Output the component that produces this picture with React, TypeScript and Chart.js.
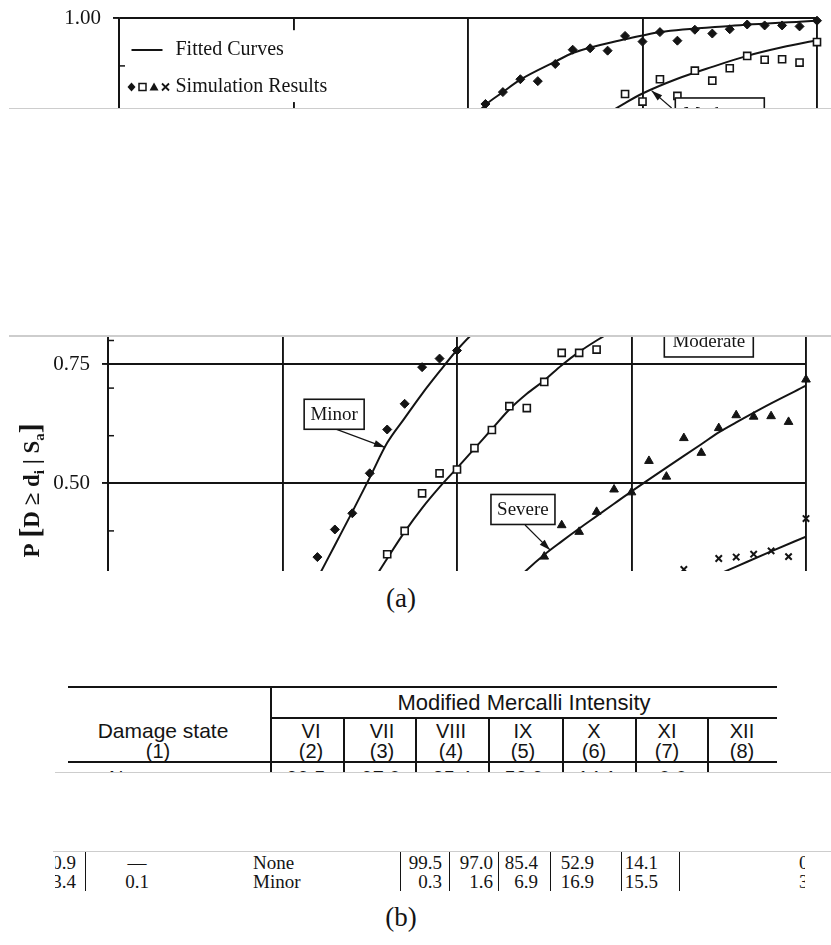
import React, { useEffect, useRef } from "react";
import { Chart, registerables } from "chart.js";

Chart.register(...registerables);

const INK = "#141414";
const SERIF = "'Liberation Serif', 'Times New Roman', serif";
const SANS = "'Liberation Sans', Arial, sans-serif";

// ---------- chart data (x: spectral acceleration, axis units 0..4; y: P[D >= di | Sa]) ----------
const minorSa = [1.2, 1.3, 1.4, 1.5, 1.6, 1.7, 1.8, 1.9, 2.0, 2.1, 2.2, 2.3, 2.4, 2.5, 2.6, 2.7, 2.8, 2.9, 3.0, 3.1, 3.2, 3.3, 3.4, 3.5, 3.6, 3.7, 3.8, 3.9, 4.0];
const minorP = [0.345, 0.403, 0.437, 0.521, 0.613, 0.667, 0.744, 0.762, 0.779, 0.82, 0.845, 0.872, 0.868, 0.904, 0.934, 0.937, 0.932, 0.963, 0.951, 0.971, 0.953, 0.976, 0.968, 0.977, 0.987, 0.985, 0.985, 0.983, 0.995];

const moderateSa = [1.6, 1.7, 1.8, 1.9, 2.0, 2.1, 2.2, 2.3, 2.4, 2.5, 2.6, 2.7, 2.8, 2.9, 3.0, 3.1, 3.2, 3.3, 3.4, 3.5, 3.6, 3.7, 3.8, 3.9, 4.0];
const moderateP = [0.351, 0.4, 0.479, 0.521, 0.529, 0.574, 0.612, 0.662, 0.658, 0.713, 0.774, 0.774, 0.781, 0.841, 0.825, 0.872, 0.837, 0.89, 0.869, 0.895, 0.921, 0.913, 0.914, 0.907, 0.95];

const severeSa = [2.5, 2.6, 2.7, 2.8, 2.9, 3.0, 3.1, 3.2, 3.3, 3.4, 3.5, 3.6, 3.7, 3.8, 3.9, 4.0];
const severeP = [0.346, 0.412, 0.398, 0.44, 0.487, 0.481, 0.547, 0.514, 0.595, 0.564, 0.616, 0.643, 0.64, 0.641, 0.629, 0.718];

const collapseSa = [3.3, 3.5, 3.6, 3.7, 3.8, 3.9, 4.0];
const collapseP = [0.319, 0.342, 0.345, 0.351, 0.358, 0.346, 0.426];

// fitted curves
const minorFitSa = [0.9, 1.0, 1.1, 1.2, 1.3, 1.4, 1.5, 1.6, 1.7, 1.8, 1.9, 2.0, 2.1, 2.2, 2.3, 2.5, 2.6, 2.9, 3.0, 3.1, 3.5, 3.9, 4.0];
const minorFitP = [0.1, 0.16, 0.23, 0.3, 0.37, 0.44, 0.512, 0.585, 0.637, 0.688, 0.735, 0.78, 0.818, 0.845, 0.871, 0.909, 0.927, 0.956, 0.964, 0.971, 0.984, 0.993, 0.995];

const moderateFitSa = [1.2, 1.3, 1.4, 1.5, 1.6, 1.7, 1.8, 1.9, 2.0, 2.1, 2.2, 2.3, 2.4, 2.5, 2.6, 2.7, 2.8, 2.9, 3.0, 3.2, 3.4, 3.6, 3.8, 4.0];
const moderateFitP = [0.11, 0.168, 0.227, 0.284, 0.342, 0.398, 0.448, 0.492, 0.532, 0.573, 0.614, 0.655, 0.688, 0.716, 0.748, 0.776, 0.8, 0.822, 0.842, 0.873, 0.898, 0.921, 0.939, 0.954];

const severeFitSa = [2.2, 2.3, 2.4, 2.5, 2.6, 2.7, 2.8, 2.9, 3.0, 3.2, 3.4, 3.5, 3.6, 3.8, 4.0];
const severeFitP = [0.245, 0.282, 0.318, 0.35, 0.378, 0.405, 0.431, 0.457, 0.483, 0.533, 0.582, 0.607, 0.628, 0.668, 0.705];

const collapseFitSa = [3.2, 3.4, 3.5, 3.6, 3.8, 4.0];
const collapseFitP = [0.26, 0.293, 0.309, 0.325, 0.357, 0.388];

const yMinorTicks = [0.1, 0.2, 0.3, 0.4, 0.6, 0.7, 0.8, 0.9];
const legendTexts = ["Fitted Curves", "Simulation Results"];
const curveLabels = ["Minor", "Severe", "Moderate"];

// ---------- table data ----------
const damageHeader = ["Damage state", "(1)"];
const mmiTitle = "Modified Mercalli Intensity";
const mmiLevels = ["VI", "VII", "VIII", "IX", "X", "XI", "XII"];
const mmiColumnNos = ["(2)", "(3)", "(4)", "(5)", "(6)", "(7)", "(8)"];
const noneRow = ["99.5", "97.0", "85.4", "52.9", "14.1", "0.0"];
const minorRow = ["0.3", "1.6", "6.9", "16.9", "15.5", "35.1"];
const leftNums = ["0.9", "3.4"];
const lossNums = ["\u2014", "0.1"];
const stateNames = ["None", "Minor"];

const pts = (xs: number[], ys: number[]) => xs.map((x, i) => ({ x, y: ys[i] }));

function drawArrow(ctx: CanvasRenderingContext2D, x1: number, y1: number, x2: number, y2: number) {
  ctx.beginPath();
  ctx.moveTo(x1, y1);
  ctx.lineTo(x2, y2);
  ctx.stroke();
  const ang = Math.atan2(y2 - y1, x2 - x1);
  const L = 11, W = 3.5;
  ctx.beginPath();
  ctx.moveTo(x2, y2);
  ctx.lineTo(x2 - L * Math.cos(ang) + W * Math.sin(ang), y2 - L * Math.sin(ang) - W * Math.cos(ang));
  ctx.lineTo(x2 - L * Math.cos(ang) - W * Math.sin(ang), y2 - L * Math.sin(ang) + W * Math.cos(ang));
  ctx.closePath();
  ctx.fill();
}

const annots = [
  { text: curveLabels[0], cx: 1.296, cy: 0.645, w: 60, h: 30, from: [1.31, 0.6134], to: [1.587, 0.5756] },
  { text: curveLabels[1], cx: 2.378, cy: 0.445, w: 64, h: 30, from: [2.39, 0.4124], to: [2.533, 0.36] },
  { text: curveLabels[2], cx: 3.443, cy: 0.799, w: 89, h: 32, from: [3.167, 0.8116], to: [3.052, 0.848] },
];

const decor = {
  id: "decor",
  beforeDatasetsDraw(chart: any) {
    const { ctx, chartArea: a, scales } = chart;
    const x = scales.x, y = scales.y;
    ctx.save();
    const gx = x.getPixelForValue(1);
    const yA = y.getPixelForValue(0.975), yB = y.getPixelForValue(0.824);
    ctx.fillStyle = "#fff";
    ctx.fillRect(gx - 3, yA, 6, yB - yA);
    ctx.strokeStyle = INK;
    ctx.lineWidth = 1.5;
    for (const v of yMinorTicks) {
      const py = y.getPixelForValue(v);
      ctx.beginPath();
      ctx.moveTo(a.left, py);
      ctx.lineTo(a.left + 6, py);
      ctx.stroke();
    }
    ctx.restore();
  },
  afterDatasetsDraw(chart: any) {
    const { ctx, chartArea: a, scales } = chart;
    const x = scales.x, y = scales.y;
    ctx.save();
    ctx.fillStyle = INK;
    ctx.strokeStyle = INK;
    const ly1 = a.top + 31.7, ly2 = a.top + 68.7;
    ctx.lineWidth = 2;
    ctx.beginPath();
    ctx.moveTo(a.left + 12.5, ly1);
    ctx.lineTo(a.left + 43.5, ly1);
    ctx.stroke();
    ctx.font = `20px ${SERIF}`;
    ctx.textBaseline = "middle";
    ctx.textAlign = "left";
    ctx.fillText(legendTexts[0], a.left + 56.5, ly1);
    ctx.fillText(legendTexts[1], a.left + 56.5, ly2);
    let mx = a.left + 12.5;
    ctx.beginPath();
    ctx.moveTo(mx, ly2 - 4.5); ctx.lineTo(mx + 4, ly2); ctx.lineTo(mx, ly2 + 4.5); ctx.lineTo(mx - 4, ly2); ctx.closePath();
    ctx.fill();
    mx = a.left + 23.5;
    ctx.lineWidth = 1.5;
    ctx.strokeRect(mx - 3.5, ly2 - 3.5, 7, 7);
    mx = a.left + 35;
    ctx.beginPath();
    ctx.moveTo(mx, ly2 - 4.5); ctx.lineTo(mx + 4.5, ly2 + 3.5); ctx.lineTo(mx - 4.5, ly2 + 3.5); ctx.closePath();
    ctx.fill();
    mx = a.left + 46.5;
    ctx.lineWidth = 1.8;
    ctx.beginPath();
    ctx.moveTo(mx - 3.5, ly2 - 3.5); ctx.lineTo(mx + 3.5, ly2 + 3.5);
    ctx.moveTo(mx + 3.5, ly2 - 3.5); ctx.lineTo(mx - 3.5, ly2 + 3.5);
    ctx.stroke();
    ctx.font = `19px ${SERIF}`;
    ctx.textAlign = "center";
    for (const an of annots) {
      const cx = x.getPixelForValue(an.cx), cy = y.getPixelForValue(an.cy);
      ctx.lineWidth = 1.2;
      drawArrow(ctx, x.getPixelForValue(an.from[0]), y.getPixelForValue(an.from[1]), x.getPixelForValue(an.to[0]), y.getPixelForValue(an.to[1]));
      ctx.fillStyle = "#fff";
      ctx.fillRect(cx - an.w / 2, cy - an.h / 2, an.w, an.h);
      ctx.lineWidth = 1.6;
      ctx.strokeRect(cx - an.w / 2, cy - an.h / 2, an.w, an.h);
      ctx.fillStyle = INK;
      ctx.fillText(an.text, cx, cy + 1);
    }
    ctx.restore();
  },
  afterDraw(chart: any) {
    const { ctx, chartArea: a } = chart;
    ctx.save();
    ctx.translate(31, (a.top + a.bottom) / 2 + 7);
    ctx.rotate(-Math.PI / 2);
    const segs = [
      { t: "P ", s: 23, dy: 0 },
      { t: "[", s: 30, dy: 1 },
      { t: "D \u2265 d", s: 23, dy: 0 },
      { t: "i", s: 15, dy: 5 },
      { t: " | S", s: 23, dy: 0 },
      { t: "a", s: 15, dy: 5 },
      { t: "]", s: 30, dy: 1 },
    ];
    let total = 0;
    for (const sg of segs) {
      ctx.font = `bold ${sg.s}px ${SERIF}`;
      total += ctx.measureText(sg.t).width;
    }
    let px = -total / 2;
    ctx.fillStyle = INK;
    ctx.textBaseline = "alphabetic";
    ctx.textAlign = "left";
    for (const sg of segs) {
      ctx.font = `bold ${sg.s}px ${SERIF}`;
      ctx.fillText(sg.t, px, 8 + sg.dy);
      px += ctx.measureText(sg.t).width;
    }
    ctx.restore();
  },
};

function makeConfig(): any {
  const fit = (d: { x: number; y: number }[]) => ({
    data: d,
    showLine: true,
    pointRadius: 0,
    borderColor: INK,
    borderWidth: 2,
    cubicInterpolationMode: "monotone",
    fill: false,
  });
  return {
    type: "scatter",
    data: {
      datasets: [
        { label: "Minor", data: pts(minorSa, minorP), pointStyle: "rectRot", pointRadius: 4.5, backgroundColor: INK, borderColor: INK, borderWidth: 1, clip: false },
        { label: "Moderate", data: pts(moderateSa, moderateP), pointStyle: "rect", pointRadius: 5, backgroundColor: "#fff", borderColor: INK, borderWidth: 1.6, clip: false },
        { label: "Severe", data: pts(severeSa, severeP), pointStyle: "triangle", pointRadius: 5, backgroundColor: INK, borderColor: INK, borderWidth: 1, clip: false },
        { label: "Collapse", data: pts(collapseSa, collapseP), pointStyle: "crossRot", pointRadius: 4.5, borderColor: INK, borderWidth: 2, clip: false },
        { label: "Minor fit", ...fit(pts(minorFitSa, minorFitP)) },
        { label: "Moderate fit", ...fit(pts(moderateFitSa, moderateFitP)) },
        { label: "Severe fit", ...fit(pts(severeFitSa, severeFitP)) },
        { label: "Collapse fit", ...fit(pts(collapseFitSa, collapseFitP)) },
      ],
    },
    options: {
      responsive: false,
      animation: false,
      events: [],
      layout: { padding: { top: 45.3, right: 25, left: 0, bottom: 0 } },
      plugins: { legend: { display: false }, tooltip: { enabled: false } },
      scales: {
        x: {
          type: "linear",
          min: 0,
          max: 4,
          ticks: { display: false, stepSize: 1 },
          grid: { color: INK, lineWidth: 1.9, drawTicks: false },
          border: { color: INK, width: 1.9 },
          afterFit: (s: any) => { s.height = 38.7; },
        },
        y: {
          type: "linear",
          min: 0,
          max: 1,
          ticks: {
            stepSize: 0.25,
            color: INK,
            padding: 12,
            font: { family: SERIF, size: 21 },
            callback: (v: any) => Number(v).toFixed(2),
          },
          grid: { color: INK, lineWidth: 1.9, tickLength: 6 },
          border: { color: INK, width: 1.9 },
          afterFit: (s: any) => { s.width = 108; },
        },
      },
    },
    plugins: [decor],
  };
}

const CW = 831, CH = 560;

function ChartView({ left, top }: { left: number; top: number }) {
  const ref = useRef<HTMLCanvasElement | null>(null);
  useEffect(() => {
    const chart = new Chart(ref.current as HTMLCanvasElement, makeConfig());
    return () => chart.destroy();
  }, []);
  return (
    <div style={{ position: "absolute", left, top, width: CW, height: CH }}>
      <canvas ref={ref} width={CW} height={CH} style={{ width: CW, height: CH, display: "block" }} />
    </div>
  );
}

function Clip({ x, y, w, h, children }: { x: number; y: number; w: number; h: number; children?: any }) {
  return (
    <div style={{ position: "absolute", left: x, top: y, width: w, height: h, overflow: "hidden" }}>
      <div style={{ position: "absolute", left: -x, top: -y, width: 831, height: 945 }}>{children}</div>
    </div>
  );
}

function Txt({ x, y, text, size, family, align = "center", w = 300 }: { x: number; y: number; text: string; size: number; family: string; align?: "center" | "left" | "right"; w?: number }) {
  const left = align === "center" ? x - w / 2 : align === "right" ? x - w : x;
  return (
    <div style={{ position: "absolute", left, top: y - size, width: w, height: size * 2, lineHeight: `${size * 2}px`, textAlign: align, fontFamily: family, fontSize: size, whiteSpace: "nowrap", color: INK }}>
      {text}
    </div>
  );
}

function Rule({ x, y, w, h, color = INK }: { x: number; y: number; w: number; h: number; color?: string }) {
  return <div style={{ position: "absolute", left: x, top: y, width: w, height: h, background: color }} />;
}

const headerX = [311, 382, 451, 523, 594, 667, 742];
const colSeps1 = [343, 415, 488, 562, 635, 707];
const valueX1 = [306, 381, 452, 524, 597, 673];
const seps2 = [85, 400, 449, 498, 550, 621, 679];
const valueRight2 = [442, 493, 538, 594, 658];

export default function App() {
  return (
    <div style={{ position: "absolute", left: 0, top: 0, width: 831, height: 945, background: "#fff", overflow: "hidden" }}>
      <Clip x={0} y={0} w={831} h={108}>
        <ChartView left={11} top={-27} />
      </Clip>
      <Clip x={0} y={335} w={831} h={236}>
        <ChartView left={0} top={200} />
      </Clip>
      <Rule x={9} y={107.5} w={822} h={1.5} color="#cdcdcd" />
      <Rule x={9} y={335} w={822} h={1.5} color="#cdcdcd" />

      <Txt x={401} y={598} text="(a)" size={27} family={SERIF} />

      <Clip x={0} y={640} w={831} h={132}>
        <Rule x={68} y={686} w={709} h={2} />
        <Rule x={270} y={686} w={1.5} h={90} />
        <Txt x={524} y={703} text={mmiTitle} size={22} family={SANS} />
        <Rule x={270} y={717} w={507} h={1.8} />
        {colSeps1.map((sx, i) => (
          <Rule key={"s" + i} x={sx} y={717} w={1.5} h={60} />
        ))}
        <Txt x={163} y={731} text={damageHeader[0]} size={21} family={SANS} />
        <Txt x={158} y={751} text={damageHeader[1]} size={20} family={SANS} />
        {mmiLevels.map((t, i) => (
          <Txt key={"h" + i} x={headerX[i]} y={731} text={t} size={20} family={SANS} />
        ))}
        {mmiColumnNos.map((t, i) => (
          <Txt key={"n" + i} x={headerX[i]} y={751} text={t} size={20} family={SANS} />
        ))}
        <Rule x={68} y={761} w={709} h={2} />
        <Txt x={109} y={778} text={stateNames[0]} size={20} family={SANS} align="left" />
        {noneRow.map((t, i) => (
          <Txt key={"r" + i} x={valueX1[i]} y={778} text={t} size={20} family={SANS} />
        ))}
      </Clip>
      <Rule x={55} y={771.5} w={776} h={1.5} color="#cdcdcd" />

      <Clip x={55} y={851} w={750} h={40}>
        {seps2.map((sx, i) => (
          <Rule key={"q" + i} x={sx} y={852} w={1.3} h={40} />
        ))}
        {[0, 1].map((r) => (
          <React.Fragment key={"row" + r}>
            <Txt x={76} y={863 + r * 19} text={leftNums[r]} size={19} family={SERIF} align="right" />
            <Txt x={137} y={863 + r * 19} text={lossNums[r]} size={19} family={SERIF} />
            <Txt x={253} y={863 + r * 19} text={stateNames[r]} size={19} family={SERIF} align="left" />
            {(r === 0 ? noneRow : minorRow).slice(0, 5).map((t, i) => (
              <Txt key={"v" + i} x={valueRight2[i]} y={863 + r * 19} text={t} size={19} family={SERIF} align="right" />
            ))}
            <Txt x={799} y={863 + r * 19} text={(r === 0 ? noneRow : minorRow)[5]} size={19} family={SERIF} align="left" />
          </React.Fragment>
        ))}
      </Clip>
      <Rule x={53} y={850.5} w={778} h={1.5} color="#cdcdcd" />

      <Txt x={401} y={917} text="(b)" size={27} family={SERIF} />
    </div>
  );
}
